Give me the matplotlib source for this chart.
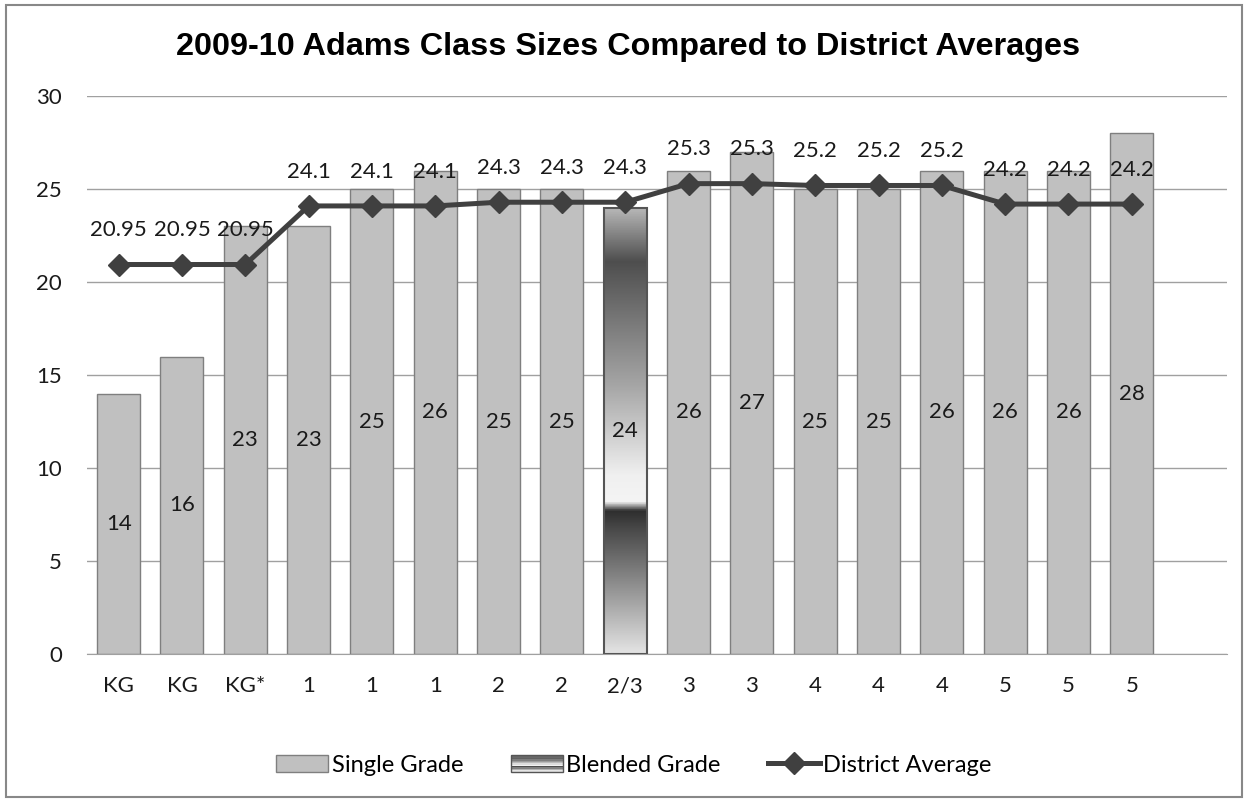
import matplotlib
matplotlib.use("Agg")
import matplotlib.pyplot as plt
import numpy as np
from matplotlib.colors import LinearSegmentedColormap
from matplotlib.legend_handler import HandlerBase
from matplotlib.lines import Line2D
from matplotlib.patches import Rectangle

grades = ["KG", "KG", "KG*", "1", "1", "1", "2", "2", "2/3",
          "3", "3", "4", "4", "4", "5", "5", "5"]
class_sizes = [14, 16, 23, 23, 25, 26, 25, 25, 24, 26, 27, 25, 25, 26, 26, 26, 28]
district_avg = [20.95, 20.95, 20.95, 24.1, 24.1, 24.1, 24.3, 24.3, 24.3,
                25.3, 25.3, 25.2, 25.2, 25.2, 24.2, 24.2, 24.2]
district_labels = ["20.95", "20.95", "20.95", "24.1", "24.1", "24.1", "24.3", "24.3", "24.3",
                   "25.3", "25.3", "25.2", "25.2", "25.2", "24.2", "24.2", "24.2"]
blended = [g == "2/3" for g in grades]

LABEL_FONT = "Lato"
FS = 16

# gradient used by the blended bar (bottom -> top)
blend_cmap = LinearSegmentedColormap.from_list(
    "blend",
    [(0.00, "#e4e4e4"), (0.28, "#484848"), (0.32, "#2e2e2e"), (0.34, "#f4f4f4"),
     (0.40, "#f0f0f0"), (0.60, "#a6a6a6"), (0.88, "#4e4e4e"), (1.00, "#b8b8b8")],
)


class GradientHandler(HandlerBase):
    def create_artists(self, legend, orig_handle, xdescent, ydescent, width, height, fontsize, trans):
        arts = []
        n = 12
        for i in range(n):
            c = blend_cmap(i / (n - 1))
            r = Rectangle((-xdescent, -ydescent + i * height / n), width, height / n,
                          facecolor=c, edgecolor="none", transform=trans)
            arts.append(r)
        arts.append(Rectangle((-xdescent, -ydescent), width, height, facecolor="none",
                              edgecolor="#555555", linewidth=1, transform=trans))
        return arts


fig = plt.figure(figsize=(12.48, 8.02), dpi=100)
ax = fig.add_axes([0.0697, 0.1845, 0.9133, 0.6955])

x = np.arange(len(grades))
bar_w = 0.68
heights_single = [0 if b else v for v, b in zip(class_sizes, blended)]
ax.bar(x, heights_single, width=bar_w, color="#c0c0c0", edgecolor="#7f7f7f",
       linewidth=1, zorder=2)

for i, (v, b) in enumerate(zip(class_sizes, blended)):
    if not b:
        continue
    grad = np.linspace(0, 1, 256).reshape(-1, 1)
    ax.imshow(grad, cmap=blend_cmap, origin="lower", aspect="auto",
              extent=(i - bar_w / 2, i + bar_w / 2, 0, v), zorder=2)
    ax.add_patch(Rectangle((i - bar_w / 2, 0), bar_w, v, facecolor="none",
                           edgecolor="#555555", linewidth=1.5, zorder=3))

for i, v in enumerate(class_sizes):
    ax.text(i, v / 2, str(v), ha="center", va="center", fontsize=FS,
            family=LABEL_FONT, color="#1a1a1a", zorder=4)

ax.plot(x, district_avg, color="#404040", linewidth=3.6, marker="D", markersize=11,
        markerfacecolor="#404040", markeredgecolor="#404040", zorder=5)
for i, (v, s) in enumerate(zip(district_avg, district_labels)):
    ax.text(i, v + 1.85, s, ha="center", va="center", fontsize=FS,
            family=LABEL_FONT, color="#1a1a1a", zorder=6)

ax.set_xlim(-0.5, len(grades) + 0.5)
ax.set_ylim(0, 30)
ax.set_yticks(range(0, 31, 5))
ax.set_xticks(x)
ax.set_xticklabels(grades)
ax.tick_params(axis="both", length=0, labelsize=FS, colors="#1a1a1a")
ax.tick_params(axis="x", pad=16)
ax.tick_params(axis="y", pad=18)
for lab in ax.get_xticklabels() + ax.get_yticklabels():
    lab.set_family(LABEL_FONT)
ax.grid(axis="y", color="#a0a0a0", linewidth=1, zorder=0)
ax.set_axisbelow(True)
for side in ["left", "right", "top"]:
    ax.spines[side].set_visible(False)
ax.spines["bottom"].set_color("#a0a0a0")

fig.text(0.503, 0.941, "2009-10 Adams Class Sizes Compared to District Averages",
         ha="center", va="center", fontsize=23.3, fontweight="bold", family="Liberation Sans")

h_single = Rectangle((0, 0), 1, 1, facecolor="#c0c0c0", edgecolor="#7f7f7f")
h_blend = Rectangle((0, 0), 1, 1)
h_line = Line2D([], [], color="#404040", linewidth=3.6, marker="D", markersize=11)
fig.legend([h_single, h_blend, h_line], ["Single Grade", "Blended Grade", "District Average"],
           handler_map={h_blend: GradientHandler()}, loc="center", bbox_to_anchor=(0.508, 0.046),
           ncol=3, frameon=False, prop={"family": LABEL_FONT, "size": 17},
           handlelength=2.2, handletextpad=0.15, columnspacing=2.0)

fig.add_artist(Rectangle((0.005, 0.006), 0.99, 0.988, transform=fig.transFigure,
                         facecolor="none", edgecolor="#888888", linewidth=1.5))

fig.savefig("out.png", dpi=100)
